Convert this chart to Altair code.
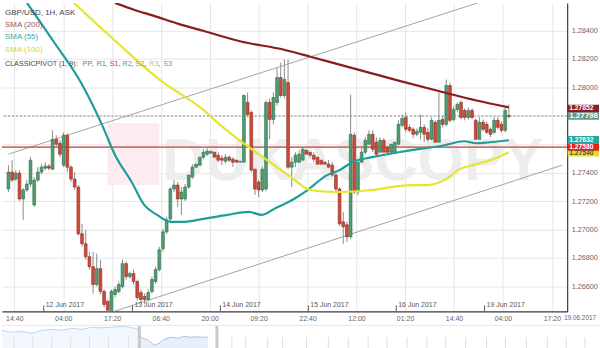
import altair as alt
import pandas as pd

# ---------------- candle data (GBP/USD 1H) ----------------
opens = [1.27285, 1.27404, 1.27355, 1.27397, 1.27215, 1.27278, 1.27320, 1.27173, 1.27348, 1.27404,
         1.27432, 1.27446, 1.27425, 1.27635, 1.27607, 1.27453, 1.27663, 1.27439, 1.27355, 1.27299,
         1.26970, 1.26900, 1.26809, 1.26739, 1.26613, 1.26725, 1.26564, 1.26494, 1.26417, 1.26543,
         1.26564, 1.26599, 1.26760, 1.26669, 1.26690, 1.26634, 1.26557, 1.26529, 1.26508, 1.26564,
         1.26634, 1.26718, 1.26865, 1.26984, 1.27075, 1.27285, 1.27313, 1.27215, 1.27215, 1.27299,
         1.27369, 1.27439, 1.27453, 1.27509, 1.27530, 1.27537, 1.27544, 1.27523, 1.27502, 1.27481,
         1.27509, 1.27495, 1.27488, 1.27474, 1.27474, 1.27894, 1.27824, 1.27425, 1.27334, 1.27278,
         1.27285, 1.27894, 1.27775, 1.27894, 1.28069, 1.27943, 1.28034, 1.27439, 1.27474, 1.27474,
         1.27488, 1.27558, 1.27544, 1.27523, 1.27509, 1.27488, 1.27474, 1.27460, 1.27453, 1.27383,
         1.27285, 1.27054, 1.27033, 1.26949, 1.27663, 1.27264, 1.27474, 1.27544, 1.27600, 1.27670,
         1.27614, 1.27544, 1.27628, 1.27579, 1.27544, 1.27544, 1.27600, 1.27733, 1.27789, 1.27719,
         1.27705, 1.27670, 1.27684, 1.27719, 1.27684, 1.27635, 1.27754, 1.27614, 1.27775, 1.27740,
         1.28013, 1.27775, 1.27845, 1.27894, 1.27838, 1.27789, 1.27838, 1.27768, 1.27635, 1.27754,
         1.27740, 1.27705, 1.27684, 1.27768, 1.27740, 1.27698, 1.27803]
highs = [1.27453, 1.27488, 1.27418, 1.27418, 1.27292, 1.27348, 1.27509, 1.27369, 1.27439, 1.27460,
         1.27474, 1.27460, 1.27698, 1.27663, 1.27628, 1.27684, 1.27677, 1.27453, 1.27404, 1.27313,
         1.27040, 1.26998, 1.26844, 1.26844, 1.26830, 1.26788, 1.26578, 1.26508, 1.26578, 1.26599,
         1.26634, 1.26788, 1.26774, 1.26704, 1.26718, 1.26648, 1.26578, 1.26550, 1.26578, 1.26669,
         1.26739, 1.26879, 1.27005, 1.27089, 1.27299, 1.27362, 1.27334, 1.27299, 1.27320, 1.27404,
         1.27460, 1.27488, 1.27530, 1.27565, 1.27572, 1.27572, 1.27565, 1.27544, 1.27523, 1.27530,
         1.27523, 1.27509, 1.27502, 1.27495, 1.27950, 1.27964, 1.27838, 1.27439, 1.27404, 1.27446,
         1.27908, 1.27922, 1.27964, 1.28139, 1.28174, 1.28195, 1.28195, 1.27509, 1.27544, 1.27558,
         1.27579, 1.27572, 1.27558, 1.27544, 1.27530, 1.27502, 1.27488, 1.27488, 1.27474, 1.27404,
         1.27299, 1.27124, 1.27054, 1.27950, 1.27684, 1.27509, 1.27579, 1.27649, 1.27698, 1.27698,
         1.27649, 1.27649, 1.27642, 1.27593, 1.27614, 1.27628, 1.27768, 1.27810, 1.27824, 1.27740,
         1.27719, 1.27712, 1.27810, 1.27740, 1.27712, 1.27789, 1.27768, 1.27964, 1.27796, 1.28055,
         1.28034, 1.27866, 1.27894, 1.27908, 1.27852, 1.27859, 1.27852, 1.27782, 1.27789, 1.27775,
         1.27761, 1.27719, 1.27789, 1.27789, 1.27761, 1.27859, 1.27880]
lows = [1.27264, 1.27334, 1.27341, 1.27201, 1.27068, 1.27264, 1.27299, 1.27159, 1.27334, 1.27390,
        1.27418, 1.27418, 1.27418, 1.27586, 1.27509, 1.27439, 1.27404, 1.27334, 1.27278, 1.26956,
        1.26879, 1.26788, 1.26718, 1.26550, 1.26599, 1.26543, 1.26452, 1.26430, 1.26430, 1.26522,
        1.26550, 1.26585, 1.26648, 1.26655, 1.26613, 1.26501, 1.26480, 1.26473, 1.26494, 1.26550,
        1.26620, 1.26704, 1.26844, 1.26970, 1.27061, 1.27264, 1.27159, 1.27103, 1.27201, 1.27285,
        1.27355, 1.27425, 1.27439, 1.27495, 1.27516, 1.27523, 1.27495, 1.27474, 1.27453, 1.27467,
        1.27474, 1.27439, 1.27460, 1.27453, 1.27460, 1.27789, 1.27404, 1.27243, 1.27229, 1.27264,
        1.27271, 1.27635, 1.27740, 1.27873, 1.27929, 1.27922, 1.27425, 1.27299, 1.27439, 1.27453,
        1.27474, 1.27488, 1.27502, 1.27474, 1.27446, 1.27439, 1.27439, 1.27418, 1.27369, 1.27264,
        1.27026, 1.26900, 1.26914, 1.26935, 1.27250, 1.27243, 1.27460, 1.27530, 1.27579, 1.27544,
        1.27509, 1.27530, 1.27523, 1.27530, 1.27530, 1.27530, 1.27586, 1.27719, 1.27684, 1.27684,
        1.27642, 1.27656, 1.27635, 1.27614, 1.27607, 1.27614, 1.27600, 1.27600, 1.27719, 1.27726,
        1.27754, 1.27761, 1.27824, 1.27775, 1.27768, 1.27775, 1.27775, 1.27614, 1.27614, 1.27691,
        1.27670, 1.27649, 1.27670, 1.27705, 1.27684, 1.27684, 1.27782]
closes = [1.27404, 1.27348, 1.27397, 1.27215, 1.27278, 1.27320, 1.27488, 1.27348, 1.27404, 1.27439,
          1.27446, 1.27432, 1.27635, 1.27600, 1.27530, 1.27663, 1.27439, 1.27355, 1.27299, 1.26970,
          1.26900, 1.26809, 1.26739, 1.26613, 1.26725, 1.26564, 1.26473, 1.26432, 1.26564, 1.26578,
          1.26613, 1.26760, 1.26669, 1.26690, 1.26634, 1.26522, 1.26508, 1.26508, 1.26557, 1.26648,
          1.26718, 1.26858, 1.26984, 1.27068, 1.27285, 1.27313, 1.27215, 1.27264, 1.27299, 1.27383,
          1.27439, 1.27460, 1.27509, 1.27544, 1.27551, 1.27551, 1.27509, 1.27488, 1.27488, 1.27509,
          1.27488, 1.27474, 1.27474, 1.27481, 1.27943, 1.27810, 1.27418, 1.27285, 1.27278, 1.27425,
          1.27894, 1.27775, 1.27929, 1.28069, 1.27943, 1.28055, 1.27439, 1.27474, 1.27523, 1.27530,
          1.27565, 1.27530, 1.27523, 1.27495, 1.27460, 1.27460, 1.27460, 1.27439, 1.27383, 1.27285,
          1.27040, 1.27019, 1.26949, 1.27670, 1.27264, 1.27474, 1.27544, 1.27628, 1.27670, 1.27565,
          1.27530, 1.27628, 1.27544, 1.27544, 1.27600, 1.27614, 1.27740, 1.27782, 1.27705, 1.27698,
          1.27670, 1.27691, 1.27719, 1.27670, 1.27635, 1.27768, 1.27614, 1.27768, 1.27740, 1.28013,
          1.27768, 1.27845, 1.27880, 1.27789, 1.27789, 1.27838, 1.27789, 1.27635, 1.27754, 1.27705,
          1.27684, 1.27670, 1.27768, 1.27719, 1.27698, 1.27838, 1.27796]

# moving averages (candle index, price)
sma200_idx = [29.0, 34.3, 39.6, 46.2, 52.9, 63.5, 74.9, 82.1, 90.0, 98.0, 106.0, 118.5, 127.2, 136.0]
sma200_val = [1.28594, 1.28545, 1.28503, 1.28447, 1.28398, 1.28321, 1.28265, 1.28216,
              1.28160, 1.28104, 1.28048, 1.27964, 1.27908, 1.27859]
sma55_idx = [5.05, 12.5, 19.7, 25.5, 29.0, 33.5, 36.9, 40.4, 44.1, 47.5, 52.9, 59.5, 65.3, 68.8,
             72.2, 77.6, 81.3, 86.6, 90.0, 93.5, 98.8, 106.0, 109.4, 118.5, 123.8, 127.2, 130.7, 136.0]
sma55_val = [1.28594, 1.28314, 1.28034, 1.27733, 1.27523, 1.27334, 1.27173, 1.27103, 1.27054,
             1.27054, 1.27075, 1.27103, 1.27124, 1.27103, 1.27145, 1.27215, 1.27278, 1.27383, 1.27418,
             1.27474, 1.27509, 1.27544, 1.27558, 1.27593, 1.27621, 1.27607, 1.27614, 1.27628]
sma100_idx = [17.8, 29.0, 41.4, 52.1, 59.0, 66.1, 72.2, 76.8, 81.3, 83.9, 90.0, 98.8, 106.0,
              109.4, 113.9, 118.5, 122.7, 127.2, 131.7, 136.0]
sma100_val = [1.28594, 1.28328, 1.28048, 1.27859, 1.27705, 1.27565, 1.27453, 1.27369, 1.27285,
              1.27271, 1.27264, 1.27278, 1.27306, 1.27313, 1.27313, 1.27348, 1.27425, 1.27460, 1.27495,
              1.27544]

# trend channel end points
chan_upper_idx = [0, 127.5]
chan_upper_val = [1.27530, 1.28594]
chan_lower_idx = [28.7, 150.5]
chan_lower_val = [1.26424, 1.27453]

pivot_pp = 1.27580
last_price = 1.27798

tag_vals = [1.27540, 1.27580, 1.27632, 1.27798, 1.27852]
tag_text = ["1.27540", "1.27580", "1.27632", "1.27798", "1.27852"]
tag_bg = ["#e3e01e", "#e8211b", "#2aa69e", "#5f9c86", "#8a1f1f"]
tag_fg = ["#555555", "#ffffff", "#ffffff", "#ffffff", "#ffffff"]
tag_fs = [6.8, 6.8, 6.8, 8, 6.8]

time_tick_idx = [1.6, 14.9, 28.2, 41.4, 54.7, 68.0, 81.3, 94.6, 107.8, 121.1, 134.4, 147.7]
time_tick_lbl = ["14:40", "04:00", "17:20", "06:40", "20:00", "09:20", "22:40", "12:00",
                 "01:20", "14:40", "04:00", "17:20"]
date_tick_idx = [9.6, 33.7, 57.6, 81.5, 105.4, 129.4]
date_tick_lbl = ["12 Jun 2017", "13 Jun 2017", "14 Jun 2017", "15 Jun 2017", "16 Jun 2017", "19 Jun 2017"]
price_ticks = [1.266, 1.268, 1.270, 1.272, 1.274, 1.276, 1.278, 1.280, 1.282, 1.284]
hidden_price_labels = [1.276, 1.278]   # covered by the price tags in the original

# navigator overview series
navL_x = [0, 10, 20, 30, 40, 50, 60, 70, 80, 90, 100, 110, 120, 127, 135, 138]
navL_v = [1.2890, 1.2860, 1.2875, 1.2845, 1.2890, 1.2905, 1.2890, 1.2920, 1.2905, 1.2935,
          1.29275, 1.2935, 1.2950, 1.29425, 1.29125, 1.2905]
navR_x = [138, 140, 147, 153, 158, 163, 170, 177, 183, 190, 197, 203, 207]
navR_v = [1.2815, 1.2785, 1.2740, 1.2665, 1.2695, 1.2755, 1.2785, 1.2770, 1.2800, 1.2785,
          1.27925, 1.2785, 1.2785]
nav_ticks = [12, 31, 50, 69, 88, 107, 127, 231, 245, 267, 282, 306, 328, 348, 368, 387, 407,
             427, 446, 466, 487, 506, 527, 548, 567, 586]
nav_handles = [138, 216]

FONT = "Liberation Sans"
GREEN, GREEN_S = "#4f9e72", "#2d6a4a"
RED, RED_S = "#d04a3a", "#8a2a20"

# ---------------- main panel ----------------
df = pd.DataFrame({"i": list(range(len(opens))), "open": opens, "high": highs,
                   "low": lows, "close": closes})
df["dir"] = ["up" if c >= o else "down" for o, c in zip(opens, closes)]

xs = alt.Scale(domain=[-0.4, 150.5], nice=False, zero=False)
ys = alt.Scale(domain=[1.26424, 1.28594], nice=False, zero=False)

x_label_expr = ("[" + ",".join("'%s'" % s for s in time_tick_lbl) + "][indexof(["
                + ",".join(str(v) for v in time_tick_idx) + "], datum.value)]")
y_label_expr = ("indexof([" + ",".join(str(v) for v in hidden_price_labels)
                + "], datum.value) >= 0 ? '' : format(datum.value, '.5f')")

x_axis = alt.Axis(values=time_tick_idx, labelExpr=x_label_expr, grid=True, gridColor="#e6e6e6",
                  ticks=False, domain=True, domainColor="#3a3a3a", domainWidth=1.2,
                  labelFontSize=7, labelColor="#666666", labelPadding=3, labelFont=FONT,
                  title=None)
y_axis = alt.Axis(orient="right", values=price_ticks, labelExpr=y_label_expr, grid=True,
                  gridColor="#e6e6e6", ticks=False, domain=True, domainColor="#3a3a3a",
                  domainWidth=1.2, labelFontSize=7.3, labelColor="#666666", labelPadding=4,
                  labelFont=FONT, title=None)


# every layer carries the same axis definition so the shared axis is merged cleanly
def X(field="i"):
    return alt.X(f"{field}:Q", scale=xs, axis=x_axis)


def Y(field):
    return alt.Y(f"{field}:Q", scale=ys, axis=y_axis)


one = pd.DataFrame({"a": [0]})

wicks = alt.Chart(df).mark_rule(color="#8a8a8a", strokeWidth=1, clip=True).encode(
    x=X(), y=Y("low"), y2="high:Q")

bodies = alt.Chart(df).mark_bar(size=2.8, clip=True, strokeWidth=0.6).encode(
    x=X(), y=Y("open"), y2="close:Q",
    color=alt.Color("dir:N", scale=alt.Scale(domain=["up", "down"], range=[GREEN, RED]), legend=None),
    stroke=alt.Stroke("dir:N", scale=alt.Scale(domain=["up", "down"], range=[GREEN_S, RED_S]), legend=None),
)

watermark_logo = alt.Chart(one).mark_rect(color="#fcebef").encode(
    x=alt.value(106), x2=alt.value(158), y=alt.value(121), y2=alt.value(183))
watermark = alt.Chart(one).mark_text(text="DUKASCOPY", font="Liberation Sans Narrow, Liberation Sans",
                                     fontSize=60, fontWeight="bold", color="#ededed",
                                     align="left", baseline="middle").encode(
    x=alt.value(161), y=alt.value(160))

chan = pd.DataFrame({
    "i": chan_upper_idx + chan_lower_idx,
    "v": chan_upper_val + chan_lower_val,
    "line": ["up", "up", "low", "low"],
})
channel = alt.Chart(chan).mark_line(color="#a3a3a3", strokeWidth=1, clip=True).encode(
    x=X(), y=Y("v"), detail="line:N")

hl = pd.DataFrame({"v": [pivot_pp]})
pp_line = alt.Chart(hl).mark_rule(color="#c45a55", strokeWidth=1.6, opacity=0.85).encode(y=Y("v"))
lp = pd.DataFrame({"v": [last_price]})
last_line = alt.Chart(lp).mark_rule(color="#8c8c8c", strokeWidth=1, strokeDash=[2, 2]).encode(y=Y("v"))


def ma_layer(idx, val, color):
    d = pd.DataFrame({"i": idx, "v": val})
    return alt.Chart(d).mark_line(color=color, strokeWidth=2.2, interpolate="monotone",
                                  clip=True).encode(x=X(), y=Y("v"))


sma200 = ma_layer(sma200_idx, sma200_val, "#8b1c1c")
sma55 = ma_layer(sma55_idx, sma55_val, "#1f9e98")
sma100 = ma_layer(sma100_idx, sma100_val, "#e5e52e")

dates = pd.DataFrame({"i": date_tick_idx, "t": date_tick_lbl})
date_ticks = alt.Chart(dates).mark_rule(color="#555555", strokeWidth=1).encode(
    x=X(), y=alt.value(304), y2=alt.value(310))
date_text = alt.Chart(dates).mark_text(align="left", baseline="middle", dx=2, font=FONT,
                                       fontSize=7, color="#555555").encode(
    x=X(), y=alt.value(304), text="t:N")

tags = pd.DataFrame({"v": tag_vals, "t": tag_text, "bg": tag_bg, "fg": tag_fg, "fs": tag_fs})
tags["top"] = tags["v"] + 0.000265
tags["bot"] = tags["v"] - 0.000265
tag_rect = alt.Chart(tags).mark_rect().encode(
    x=alt.value(568.5), x2=alt.value(600), y=Y("top"), y2="bot:Q",
    color=alt.Color("bg:N", scale=None))
tag_txt = alt.Chart(tags).mark_text(align="left", baseline="middle", font=FONT,
                                    fontWeight="bold").encode(
    x=alt.value(570), y=Y("v"), text="t:N", color=alt.Color("fg:N", scale=None),
    size=alt.Size("fs:Q", scale=None))


def txt(x, y, s, color, size=8):
    return alt.Chart(one).mark_text(text=s, align="left", baseline="middle", font=FONT,
                                    fontSize=size, color=color).encode(x=alt.value(x), y=alt.value(y))


legend = [
    txt(3, 10, "GBP/USD, 1H, ASK", "#444444"),
    txt(3, 22, "SMA (200)", "#a4524e"),
    txt(3, 34, "SMA (55)", "#3aa9a6"),
    txt(3, 47, "SMA (100)", "#d8d23c"),
    txt(3, 61, "CLASSICPIVOT (1, 9):", "#444444", 7.2),
]
tokens = [(81, "PP", "#5d80a8"), (90, ",", "#444444"), (95, "R1", "#4f9a4f"), (103.5, ",", "#444444"),
          (108, "S1", "#c24848"), (117, ",", "#444444"), (121, "R2", "#3aa6b4"), (130, ",", "#444444"),
          (134, "S2", "#d27ab2"), (143, ",", "#444444"), (148, "R3", "#d8c32a"), (157, ",", "#444444"),
          (162, "S3", "#9a86a8")]
legend += [txt(x, 61, s, c, 7.4) for x, s, c in tokens]

date_stamp = txt(565, 317, "19.06.2017", "#666666", 6.4)

main = alt.layer(
    wicks, watermark_logo, watermark, channel, pp_line, last_line, bodies,
    sma200, sma55, sma100, date_ticks, date_text, tag_rect, tag_txt, date_stamp, *legend
).properties(width=568, height=310)

# ---------------- navigator ----------------
nxs = alt.Scale(domain=[0, 600], nice=False, zero=False)
nys = alt.Scale(domain=[1.2590, 1.2965], nice=False, zero=False)
NX = alt.X("x:Q", scale=nxs, axis=None)
navL = pd.DataFrame({"x": navL_x, "v": navL_v})
navR = pd.DataFrame({"x": navR_x, "v": navR_v})
nav_area_L = alt.Chart(navL).mark_area(color="#edf3fc", line={"color": "#c3d4ee", "strokeWidth": 1}).encode(
    x=NX, y=alt.Y("v:Q", scale=nys, axis=None), y2=alt.value(25))
nav_area_R = alt.Chart(navR).mark_area(color="#dce8f8", line={"color": "#a9c3e8", "strokeWidth": 1}).encode(
    x=NX, y=alt.Y("v:Q", scale=nys, axis=None), y2=alt.value(25))
nt = pd.DataFrame({"x": nav_ticks})
nav_tick = alt.Chart(nt).mark_rule(color="#dedede", strokeWidth=1).encode(
    x=NX, y=alt.value(12), y2=alt.value(25))
nh = pd.DataFrame({"x": nav_handles})
nav_handle = alt.Chart(nh).mark_rule(color="#c9c9c9", strokeWidth=3).encode(x=NX)
nav_top = alt.Chart(one).mark_rule(color="#e6e6e6", strokeWidth=1).encode(
    x=alt.value(0), x2=alt.value(600), y=alt.value(0))
nav = alt.layer(nav_area_L, nav_area_R, nav_tick, nav_handle, nav_top).properties(width=600, height=25)

chart = alt.vconcat(main, nav, spacing=1, padding=0).configure_view(stroke=None)
chart.save("out.html", embed_options={"renderer": "svg", "actions": False})
